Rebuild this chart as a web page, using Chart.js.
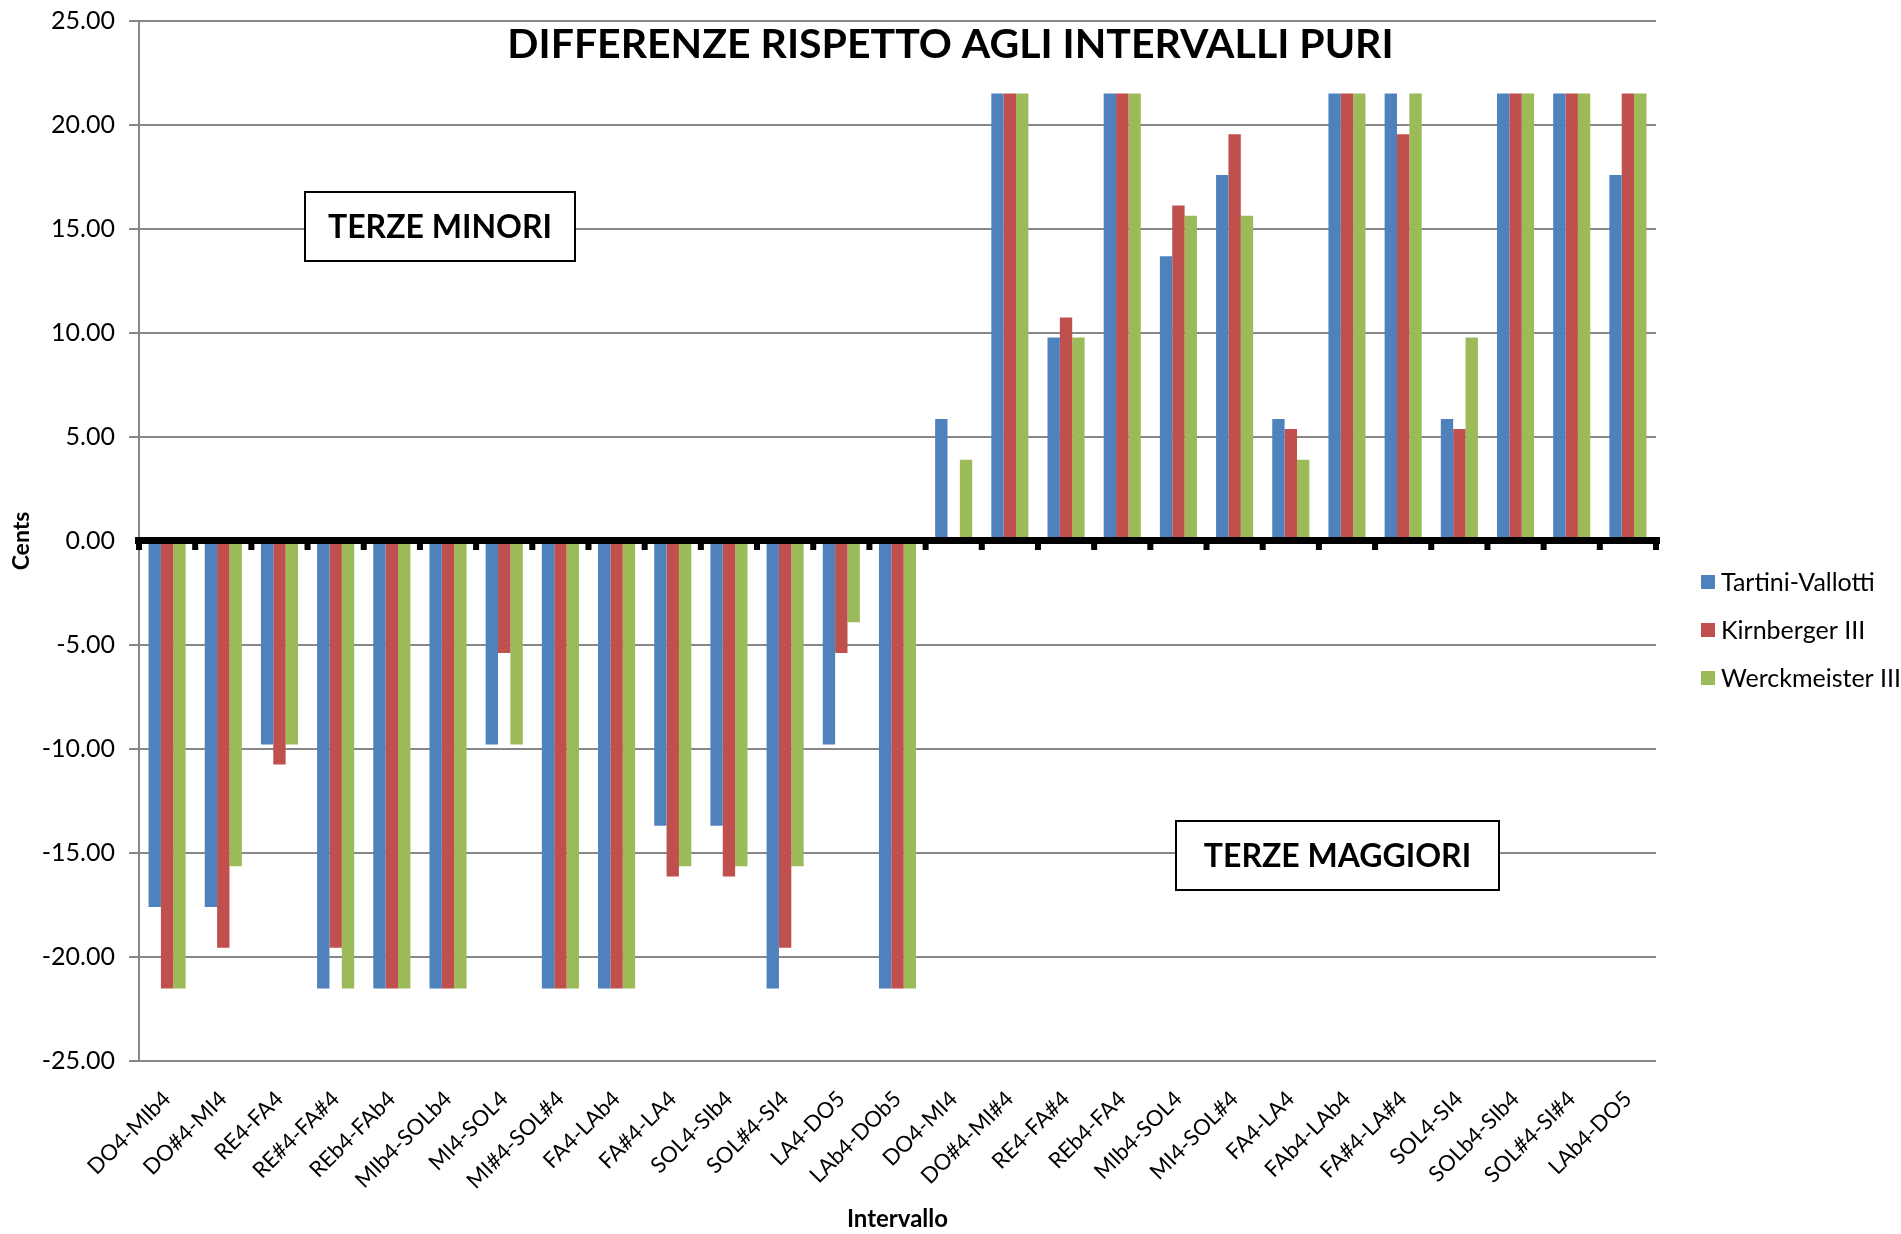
<!DOCTYPE html>
<html>
<head>
<meta charset="utf-8">
<script src="https://cdn.jsdelivr.net/npm/chart.js@4.4.1/dist/chart.umd.min.js"></script>
<style>
  html, body { margin: 0; padding: 0; background: #fff; }
  #wrap { width: 1901px; height: 1234px; position: relative; }
</style>
</head>
<body>
<div id="wrap"><canvas id="chart"></canvas></div>
<script>
// intervalli (terze minori, poi terze maggiori)
const intervals = [
  "DO4-MIb4", "DO#4-MI4", "RE4-FA4", "RE#4-FA#4", "REb4-FAb4", "MIb4-SOLb4", "MI4-SOL4",
  "MI#4-SOL#4", "FA4-LAb4", "FA#4-LA4", "SOL4-SIb4", "SOL#4-SI4", "LA4-DO5", "LAb4-DOb5",
  "DO4-MI4", "DO#4-MI#4", "RE4-FA#4", "REb4-FA4", "MIb4-SOL4", "MI4-SOL#4", "FA4-LA4",
  "FAb4-LAb4", "FA#4-LA#4", "SOL4-SI4", "SOLb4-SIb4", "SOL#4-SI#4", "LAb4-DO5"
];

const tartini = [
  -17.60, -17.60, -9.78, -21.51, -21.51, -21.51, -9.78, -21.51, -21.51, -13.69, -13.69, -21.51, -9.78, -21.51,
  5.87, 21.51, 9.78, 21.51, 13.69, 17.60, 5.87, 21.51, 21.51, 5.87, 21.51, 21.51, 17.60
];
const kirnberger = [
  -21.51, -19.55, -10.75, -19.55, -21.51, -21.51, -5.38, -21.51, -21.51, -16.13, -16.13, -19.55, -5.38, -21.51,
  0.00, 21.51, 10.75, 21.51, 16.13, 19.55, 5.38, 21.51, 19.55, 5.38, 21.51, 21.51, 21.51
];
const werckmeister = [
  -21.51, -15.64, -9.78, -21.51, -21.51, -21.51, -9.78, -21.51, -21.51, -15.64, -15.64, -15.64, -3.91, -21.51,
  3.91, 21.51, 9.78, 21.51, 15.64, 15.64, 3.91, 21.51, 21.51, 9.78, 21.51, 21.51, 21.51
];

const seriesNames = ["Tartini-Vallotti", "Kirnberger III", "Werckmeister III"];
const seriesColors = ["#4F81BD", "#C0504D", "#9BBB59"];
const yMin = -25, yMax = 25, yStep = 5;

const FONT = "Lato";
Chart.defaults.font.family = FONT;
Chart.defaults.color = "#000";

// zero line with black category ticks, drawn over the bars
const zeroAxisPlugin = {
  id: "zeroAxis",
  afterDatasetsDraw(chart) {
    const ctx = chart.ctx;
    const area = chart.chartArea;
    const y0 = chart.scales.y.getPixelForValue(0);
    const n = intervals.length;
    const step = (area.right - area.left) / n;
    ctx.save();
    ctx.fillStyle = "#000";
    ctx.fillRect(area.left - 4, y0 - 4, area.right - area.left + 8, 7);
    for (let i = 0; i <= n; i++) {
      const x = area.left + i * step;
      ctx.fillRect(x - 3, y0, 6, 9);
    }
    ctx.restore();
  }
};

// title, text boxes and legend
const labelsPlugin = {
  id: "labels",
  afterDraw(chart) {
    const ctx = chart.ctx;
    ctx.save();
    ctx.fillStyle = "#000";
    ctx.textBaseline = "middle";
    ctx.textAlign = "center";
    ctx.font = "bold 41px " + FONT;
    ctx.fillText("DIFFERENZE RISPETTO AGLI INTERVALLI PURI", chart.width / 2, 45);

    const boxes = [
      { text: "TERZE MINORI", x: 305, y: 192, w: 270, h: 69 },
      { text: "TERZE MAGGIORI", x: 1176, y: 821, w: 323, h: 69 }
    ];
    boxes.forEach(b => {
      ctx.fillStyle = "#fff";
      ctx.fillRect(b.x, b.y, b.w, b.h);
      ctx.strokeStyle = "#000";
      ctx.lineWidth = 2;
      ctx.strokeRect(b.x, b.y, b.w, b.h);
      ctx.fillStyle = "#000";
      ctx.font = "bold 32px " + FONT;
      ctx.fillText(b.text, b.x + b.w / 2, b.y + b.h / 2 + 1);
    });

    ctx.textAlign = "left";
    ctx.font = "25px " + FONT;
    const legendY = [582, 630, 678];
    seriesNames.forEach((name, i) => {
      ctx.fillStyle = seriesColors[i];
      ctx.fillRect(1701, legendY[i] - 7, 14, 14);
      ctx.fillStyle = "#000";
      ctx.fillText(name, 1721, legendY[i] + 1);
    });
    ctx.restore();
  }
};

const seriesData = [tartini, kirnberger, werckmeister];

new Chart(document.getElementById("chart").getContext("2d"), {
  type: "bar",
  data: {
    labels: intervals,
    datasets: seriesNames.map((name, i) => ({
      label: name,
      data: seriesData[i],
      backgroundColor: seriesColors[i],
      borderWidth: 0,
      barPercentage: 1.0,
      categoryPercentage: 0.66
    }))
  },
  options: {
    responsive: true,
    maintainAspectRatio: false,
    animation: false,
    devicePixelRatio: 1,
    layout: { padding: { top: 21, right: 245, left: 0, bottom: 0 } },
    plugins: {
      legend: { display: false },
      title: { display: false },
      tooltip: { enabled: false }
    },
    scales: {
      x: {
        afterFit: s => { s.height = 173; },
        grid: { display: false },
        border: { display: false },
        ticks: {
          autoSkip: false,
          minRotation: 45,
          maxRotation: 45,
          color: "#000",
          font: { size: 22 },
          padding: 17
        },
        title: {
          display: true,
          text: "Intervallo",
          color: "#000",
          font: { size: 24, weight: "bold" },
          padding: { top: 0, bottom: 0 }
        }
      },
      y: {
        min: yMin,
        max: yMax,
        afterFit: s => { s.width = 139; s.paddingTop = 0; s.paddingBottom = 0; },
        ticks: {
          stepSize: yStep,
          color: "#000",
          font: { size: 25 },
          padding: 14,
          callback: v => v.toFixed(2)
        },
        grid: {
          color: "#878787",
          lineWidth: c => (c.tick && c.tick.value === 0 ? 0 : 2),
          tickLength: 10,
          tickColor: "#878787"
        },
        border: { color: "#878787", width: 2 },
        title: {
          display: true,
          text: "Cents",
          color: "#000",
          font: { size: 23, weight: "bold" },
          padding: { top: 8, bottom: 0 }
        }
      }
    }
  },
  plugins: [zeroAxisPlugin, labelsPlugin]
});
</script>
</body>
</html>
